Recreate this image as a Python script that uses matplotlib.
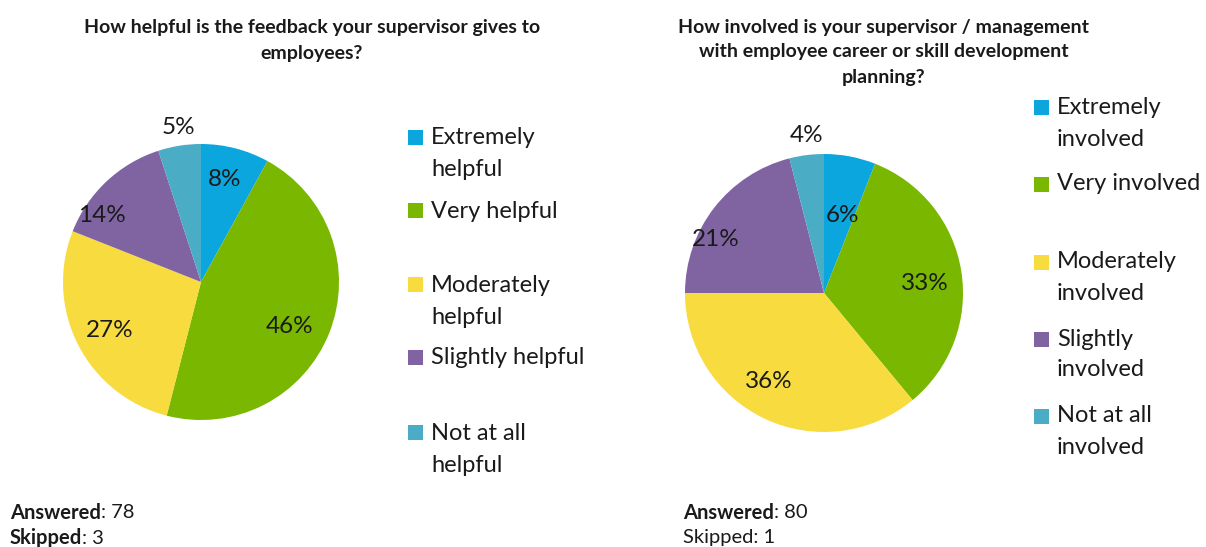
import numpy as np
import matplotlib
matplotlib.use("Agg")
import matplotlib.pyplot as plt
from matplotlib.patches import Rectangle

plt.rcParams['font.family'] = ['Lato', 'DejaVu Sans']

# Survey results (percent of respondents)
feedback_labels = ['Extremely\nhelpful', 'Very helpful', 'Moderately\nhelpful',
                   'Slightly helpful', 'Not at all\nhelpful']
feedback_values = [8, 46, 27, 14, 5]
feedback_answered = 78
feedback_skipped = 3

career_labels = ['Extremely\ninvolved', 'Very involved', 'Moderately\ninvolved',
                 'Slightly\ninvolved', 'Not at all\ninvolved']
career_values = [6, 33, 36, 21, 4]
career_answered = 80
career_skipped = 1

colors = ['#0BA6DE', '#79B700', '#F8DB3F', '#8064A2', '#4BACC6']

W, H = 1206, 547
fig = plt.figure(figsize=(W / 100, H / 100), dpi=100)

# overlay axes in pixel units for titles, legends and footnotes
bg = fig.add_axes([0, 0, 1, 1])
bg.set_xlim(0, W)
bg.set_ylim(H, 0)
bg.axis('off')

TXT = '#1a1a1a'


def draw_pie(cx, cy, r, values, label_dist, label_shift):
    ax = fig.add_axes([(cx - r) / W, (H - cy - r) / H, 2 * r / W, 2 * r / H])
    wedges, _ = ax.pie(values, colors=colors, startangle=90, counterclock=False,
                       radius=1, wedgeprops=dict(linewidth=0))
    ax.set_xlim(-1, 1)
    ax.set_ylim(-1, 1)
    ax.set_aspect('auto')
    for w, v, d, s in zip(wedges, values, label_dist, label_shift):
        mid = np.deg2rad((w.theta1 + w.theta2) / 2 + s)
        ax.text(d * np.cos(mid), d * np.sin(mid), f'{v}%', ha='center', va='center',
                fontsize=17.5, color=TXT, clip_on=False)
    return ax


def draw_lines(x, y, text, step, ha='left', **kw):
    for i, line in enumerate(text.split('\n')):
        bg.text(x, y + i * step, line, ha=ha, va='center', color=TXT, **kw)


def draw_legend(x, rows, labels):
    for (ym, yt), lab, c in zip(rows, labels, colors):
        bg.add_patch(Rectangle((x, ym - 7.5), 15, 15, color=c, linewidth=0))
        draw_lines(x + 23, yt, lab, 31, fontsize=17)


def draw_counts(x, answered, skipped, bold_skipped):
    t = bg.text(x, 513, 'Answered', fontweight='bold', fontsize=14.5,
                va='center', ha='left', color=TXT)
    bg.annotate(f': {answered}', xy=(1, 0.5), xycoords=t, va='center', ha='left',
                fontsize=14.5, color=TXT)
    if bold_skipped:
        t2 = bg.text(x, 538, 'Skipped', fontweight='bold', fontsize=14.5,
                     va='center', ha='left', color=TXT)
        bg.annotate(f': {skipped}', xy=(1, 0.5), xycoords=t2, va='center', ha='left',
                    fontsize=14.5, color=TXT)
    else:
        bg.text(x, 538, f'Skipped: {skipped}', fontsize=14.5, va='center', ha='left',
                color=TXT)


# left chart
draw_lines(312, 27, 'How helpful is the feedback your supervisor gives to\nemployees?',
           26, ha='center', fontsize=14, fontweight='bold')
draw_pie(201, 282, 138, feedback_values, [0.76, 0.72, 0.75, 0.86, 1.13],
         [1.4, -5.2, 1.0, 13.0, -0.6])
draw_legend(408, [(137, 138), (210, 212), (284, 286), (357, 358), (432, 434)],
            feedback_labels)
draw_counts(10, feedback_answered, feedback_skipped, True)

# right chart
draw_lines(884, 27, 'How involved is your supervisor / management\n'
           'with employee career or skill development\nplanning?',
           25, ha='center', fontsize=14, fontweight='bold')
draw_pie(824, 293, 139, career_values, [0.57, 0.73, 0.75, 0.87, 1.14],
         [-2.4, -3.4, -7.0, 11.7, -0.7])
draw_legend(1034, [(107, 108), (184, 184), (262, 262), (339, 339), (416, 416)],
            career_labels)
draw_counts(683, career_answered, career_skipped, False)

fig.savefig('out.png', dpi=100)
